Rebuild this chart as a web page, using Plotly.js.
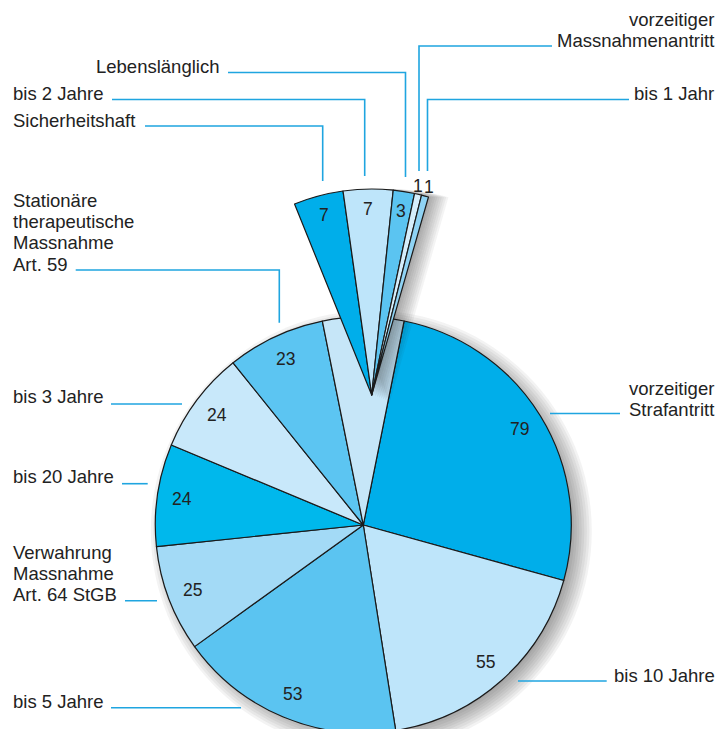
<!DOCTYPE html>
<html><head><meta charset="utf-8">
<script src="https://cdn.plot.ly/plotly-3.0.1.min.js"></script>
<style>
html,body{margin:0;padding:0;overflow:hidden;background:#fff;width:718px;height:729px}
#chart{width:718px;height:760px}
</style>
</head><body>
<div id="chart"></div>
<script>
// ---- data ----
const mainLabels = ['vorzeitiger\nStrafantritt', 'bis 10 Jahre', 'bis 5 Jahre',
  'Verwahrung\nMassnahme\nArt. 64 StGB', 'bis 20 Jahre', 'bis 3 Jahre',
  'Stationäre\ntherapeutische\nMassnahme\nArt. 59'];
const mainValues = [79, 55, 53, 25, 24, 24, 23];
const fanLabels = ['Sicherheitshaft', 'bis 2 Jahre', 'Lebenslänglich',
  'vorzeitiger\nMassnahmenantritt', 'bis 1 Jahr'];
const fanValues = [7, 7, 3, 1, 1];

// ---- styles ----
const mainColors = ['#00AEEA', '#BEE5FA', '#5BC4F1', '#A3DAF6', '#00B8EC', '#C8E8FA', '#5CC5F2'];
const otherColor = '#C6E6F8';
const fanColors = ['#00AEEA', '#BEE5FA', '#5BC4F1', '#D5EEFB', '#8FD3F4'];
const W = 718, H = 760;
const MAIN = {cx: 363.3, cy: 525, r: 208, rotation: 11.3, textR: 183};
const FAN = {cx: 371.7, cy: 395, r: 206, rotation: -22, degPerUnit: 2, textR: 186, outR: 215};
const SHADOW = {dx: 8, dy: 6, steps: 10, r0: -10, dr: 2.5, color: 'rgba(40,40,40,0.055)'};
const FAN_SHADOW = {steps: 9, dx: 2, dy: 0.8, dr: 0.8, color: 'rgba(40,40,40,0.05)'};
const FONT = 'Liberation Sans, Arial, Helvetica, sans-serif';
const LABEL_SIZE = 18.5, NUM_SIZE = 17.5, TXT = '#222222', LEAD = '#1FA5E0';
const MIN_GAP = 10.5; // min horizontal distance between outside value labels

// label layout (pixels): x, anchor, baselines of lines, leader polyline
const labelPos = {
  'vorzeitiger\nStrafantritt': {x: 715, a: 'right', b: [395, 415.5], l: [[550, 413.5], [620, 413.5]]},
  'bis 10 Jahre': {x: 613, a: 'left', b: [681.7], l: [[518, 681], [606.7, 681]]},
  'bis 5 Jahre': {x: 12, a: 'left', b: [708.3], l: [[111, 707.7], [241, 707.7]]},
  'Verwahrung\nMassnahme\nArt. 64 StGB': {x: 12, a: 'left', b: [559, 579.5, 600.7], l: [[125, 600.7], [157, 600.7]]},
  'bis 20 Jahre': {x: 12, a: 'left', b: [483.3], l: [[122, 483.7], [147.7, 483.7]]},
  'bis 3 Jahre': {x: 12, a: 'left', b: [403.3], l: [[111, 404], [182, 404]]},
  'Stationäre\ntherapeutische\nMassnahme\nArt. 59': {x: 12, a: 'left', b: [206.7, 227.7, 249.3, 270.7], l: [[75.7, 270], [279.3, 270], [279.3, 322.7]]},
  'Sicherheitshaft': {x: 12, a: 'left', b: [126.5], l: [[145, 126], [322.7, 126], [322.7, 181]]},
  'bis 2 Jahre': {x: 12, a: 'left', b: [100], l: [[112, 99.5], [364.7, 99.5], [364.7, 176]]},
  'Lebenslänglich': {x: 220, a: 'right', b: [73], l: [[228, 72.5], [405.5, 72.5], [405.5, 177]]},
  'vorzeitiger\nMassnahmenantritt': {x: 715, a: 'right', b: [26, 46.7], l: [[552, 46], [419, 46], [419, 171]]},
  'bis 1 Jahr': {x: 715, a: 'right', b: [100], l: [[629, 99.5], [427.5, 99.5], [427.5, 171]]}
};

const sum = a => a.reduce((s, v) => s + v, 0);
const px = x => x / W, py = y => 1 - y / H;
const dom = (c) => ({x: [(c.cx - c.r) / W, (c.cx + c.r) / W], y: [(H - c.cy - c.r) / H, (H - c.cy + c.r) / H]});
const flat = s => s.replace(/\n/g, ' ');

const otherValue = sum(fanValues);
const mainAll = mainValues.concat([otherValue]);
const fanFill = 360 / FAN.degPerUnit - otherValue;
const clear = 'rgba(0,0,0,0)';

const traces = [];
// soft shadow under the main pie: stacked translucent discs
for (let k = 0; k < SHADOW.steps; k++) {
  traces.push({type: 'pie', values: [1], labels: ['s' + k], sort: false, textinfo: 'none', hoverinfo: 'skip',
    marker: {colors: [SHADOW.color], line: {width: 0}}, showlegend: false,
    domain: dom({cx: MAIN.cx + SHADOW.dx, cy: MAIN.cy + SHADOW.dy, r: MAIN.r + SHADOW.r0 + SHADOW.dr * k})});
}
traces.push({type: 'pie', sort: false, direction: 'clockwise', rotation: MAIN.rotation,
  values: mainAll, labels: mainLabels.map(flat).concat(['übrige']),
  marker: {colors: mainColors.concat([otherColor]), line: {color: '#1a1a1a', width: 1.2}},
  textinfo: 'none', hoverinfo: 'label+value', domain: dom(MAIN), showlegend: false});
// soft shadow of the exploded fan: offset translucent copies
for (let k = 1; k <= FAN_SHADOW.steps; k++) {
  traces.push({type: 'pie', sort: false, direction: 'clockwise', rotation: FAN.rotation,
    values: fanValues.concat([fanFill]), labels: fanLabels.map(flat).concat(['']),
    marker: {colors: fanValues.map(() => FAN_SHADOW.color).concat([clear]), line: {width: 0}},
    textinfo: 'none', hoverinfo: 'skip', showlegend: false,
    domain: dom({cx: FAN.cx + FAN_SHADOW.dx * k, cy: FAN.cy + FAN_SHADOW.dy * k, r: FAN.r + FAN_SHADOW.dr * k})});
}
traces.push({type: 'pie', sort: false, direction: 'clockwise', rotation: FAN.rotation,
  values: fanValues.concat([fanFill]), labels: fanLabels.map(flat).concat(['']),
  marker: {colors: fanColors.concat([clear]),
           line: {color: '#1a1a1a', width: fanValues.map(() => 1.2).concat([0])}},
  textinfo: 'none', hoverinfo: 'label+value', domain: dom(FAN), showlegend: false});

const annotations = [], shapes = [];
function addText(text, x, yCenter, anchor, size) {
  annotations.push({text: text, x: px(x), y: py(yCenter), xref: 'paper', yref: 'paper',
    xanchor: anchor, yanchor: 'middle', showarrow: false, borderpad: 0,
    font: {family: FONT, size: size, color: TXT}});
}
// value labels computed from data angles
function valueLabels(values, total, c, degTotal) {
  let cum = 0;
  const outside = [];
  values.forEach(v => {
    const span = v / total * degTotal;
    const a = (c.rotation + (cum + v / 2) / total * degTotal) * Math.PI / 180;
    const rr = span < 4 ? c.outR : c.textR;
    const pos = {v: v, x: c.cx + rr * Math.sin(a), y: c.cy - rr * Math.cos(a)};
    if (span < 4) outside.push(pos); else addText(String(v), pos.x, pos.y, 'center', NUM_SIZE);
    cum += v;
  });
  for (let i = 1; i < outside.length; i++) {
    const d = outside[i].x - outside[i - 1].x;
    if (d < MIN_GAP) { const s = (MIN_GAP - d) / 2; outside[i - 1].x -= s; outside[i].x += s; }
  }
  outside.forEach(p => addText(String(p.v), p.x, p.y, 'center', NUM_SIZE));
}
valueLabels(mainValues, sum(mainAll), MAIN, 360);
valueLabels(fanValues, otherValue + fanFill, FAN, 360);

// category labels + leader lines
mainLabels.concat(fanLabels).forEach(name => {
  const p = labelPos[name];
  name.split('\n').forEach((line, i) => addText(line, p.x, p.b[i] - 0.3465 * LABEL_SIZE, p.a, LABEL_SIZE));
  const path = p.l.map((pt, i) => (i ? 'L' : 'M') + px(pt[0]).toFixed(5) + ',' + py(pt[1]).toFixed(5)).join(' ');
  shapes.push({type: 'path', xref: 'paper', yref: 'paper', path: path, line: {color: LEAD, width: 1.6}});
});

const layout = {width: W, height: H, margin: {l: 0, r: 0, t: 0, b: 0},
  paper_bgcolor: '#fff', plot_bgcolor: '#fff', showlegend: false,
  annotations: annotations, shapes: shapes};

Plotly.newPlot('chart', traces, layout, {displayModeBar: false, staticPlot: true});
</script></body></html>
